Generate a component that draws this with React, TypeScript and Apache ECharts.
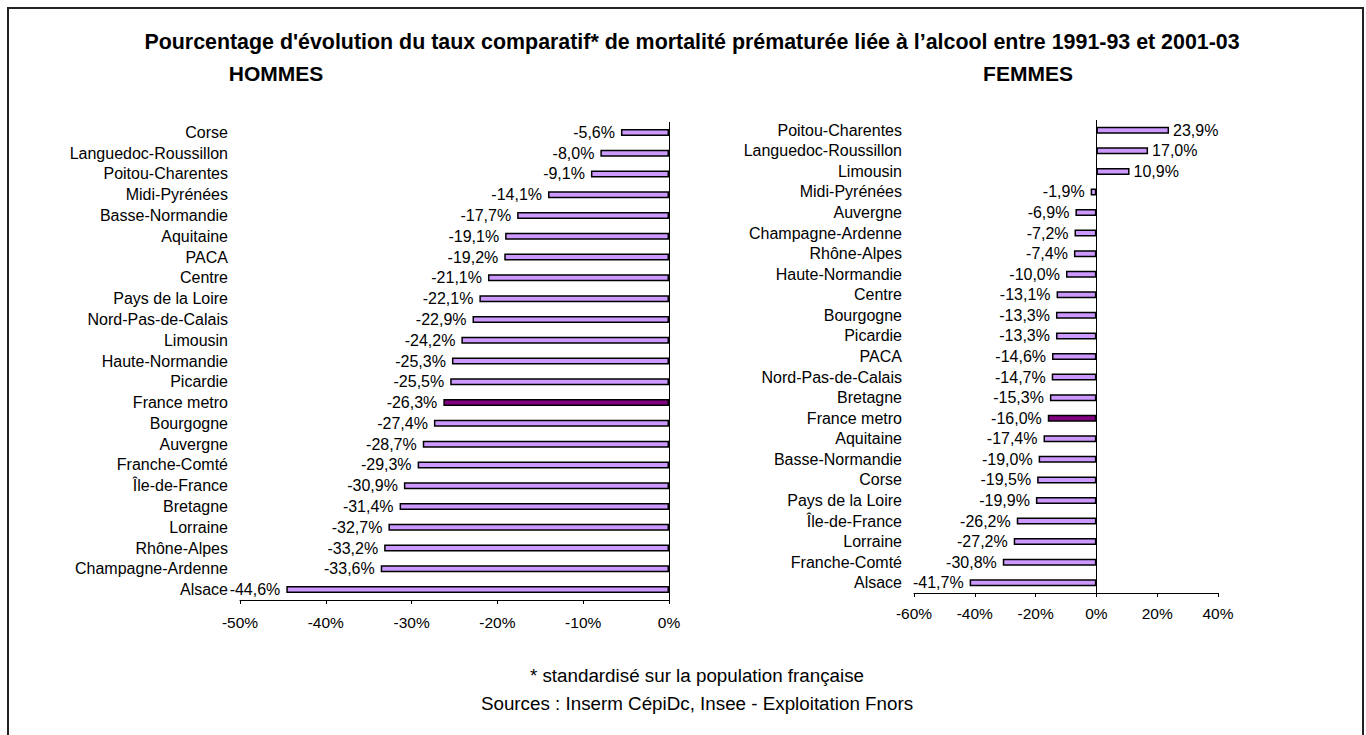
import React, { useEffect, useRef } from "react";
import * as echarts from "echarts";

const menCategories = [
  "Corse", "Languedoc-Roussillon", "Poitou-Charentes", "Midi-Pyrénées", "Basse-Normandie",
  "Aquitaine", "PACA", "Centre", "Pays de la Loire", "Nord-Pas-de-Calais", "Limousin",
  "Haute-Normandie", "Picardie", "France metro", "Bourgogne", "Auvergne", "Franche-Comté",
  "Île-de-France", "Bretagne", "Lorraine", "Rhône-Alpes", "Champagne-Ardenne", "Alsace",
];
const menValues = [
  -5.6, -8.0, -9.1, -14.1, -17.7, -19.1, -19.2, -21.1, -22.1, -22.9, -24.2, -25.3, -25.5,
  -26.3, -27.4, -28.7, -29.3, -30.9, -31.4, -32.7, -33.2, -33.6, -44.6,
];

const womenCategories = [
  "Poitou-Charentes", "Languedoc-Roussillon", "Limousin", "Midi-Pyrénées", "Auvergne",
  "Champagne-Ardenne", "Rhône-Alpes", "Haute-Normandie", "Centre", "Bourgogne", "Picardie",
  "PACA", "Nord-Pas-de-Calais", "Bretagne", "France metro", "Aquitaine", "Basse-Normandie",
  "Corse", "Pays de la Loire", "Île-de-France", "Lorraine", "Franche-Comté", "Alsace",
];
const womenValues = [
  23.9, 17.0, 10.9, -1.9, -6.9, -7.2, -7.4, -10.0, -13.1, -13.3, -13.3, -14.6, -14.7, -15.3,
  -16.0, -17.4, -19.0, -19.5, -19.9, -26.2, -27.2, -30.8, -41.7,
];

const menTicks = { min: -50, max: 0, interval: 10 };
const womenTicks = { min: -60, max: 40, interval: 20 };

const titleText =
  "Pourcentage d'évolution du taux comparatif* de mortalité prématurée liée à l’alcool entre 1991-93 et 2001-03";
const menTitle = "HOMMES";
const womenTitle = "FEMMES";
const footnote1 = "* standardisé sur la population française";
const footnote2 = "Sources : Inserm CépiDc, Insee - Exploitation Fnors";
const highlight = "France metro";

const FONT = 'Arial, "Liberation Sans", Helvetica, sans-serif';
const fmt = (v: number) => v.toFixed(1).replace(".", ",") + "%";

function buildData(cats: string[], vals: number[]) {
  return vals.map((v, i) => ({
    value: v,
    itemStyle: { color: cats[i] === highlight ? "#800080" : "#CC99FF" },
    label: { position: v < 0 ? "left" : "right", distance: v < 0 ? 6 : 4 },
  }));
}

export default function App() {
  const ref = useRef<HTMLDivElement>(null);
  useEffect(() => {
    if (!ref.current) return;
    const chart = echarts.init(ref.current, null, { renderer: "svg" });
    const axisCommon = (t: { min: number; max: number; interval: number }, margin: number) => ({
      type: "value" as const,
      min: t.min,
      max: t.max,
      interval: t.interval,
      axisLine: { show: true, lineStyle: { color: "#000", width: 1 } },
      axisTick: { show: true, length: 4, lineStyle: { color: "#000" } },
      splitLine: { show: false },
      axisLabel: {
        color: "#000",
        fontSize: 15.5,
        fontFamily: FONT,
        margin,
        formatter: (v: number) => `${v}%`,
      },
    });
    const catAxis = (cats: string[], gi: number) => ({
      type: "category" as const,
      gridIndex: gi,
      data: cats,
      inverse: true,
      axisLine: { show: false },
      axisTick: { show: false },
      axisLabel: { interval: 0, color: "#000", fontSize: 16, fontFamily: FONT, margin: 12 },
    });
    const barSeries = (cats: string[], vals: number[], gi: number) => ({
      type: "bar" as const,
      xAxisIndex: gi,
      yAxisIndex: gi,
      barWidth: 7,
      data: buildData(cats, vals),
      itemStyle: { borderColor: "#000", borderWidth: 1.5 },
      label: {
        show: true,
        color: "#000",
        fontSize: 16,
        fontFamily: FONT,
        formatter: (p: any) => fmt(p.value),
      },
      markLine: {
        silent: true,
        symbol: "none",
        label: { show: false },
        lineStyle: { color: "#000", width: 1, type: "solid" },
        data: [{ xAxis: 0 }],
      },
    });
    const txt = (text: string, x: number, y: number, font: string) => ({
      type: "text",
      x,
      y,
      style: { text, font, fill: "#000", textAlign: "center", textVerticalAlign: "middle" },
    });
    chart.setOption({
      animation: false,
      backgroundColor: "#fff",
      grid: [
        { left: 240, right: 697, top: 122, bottom: 135 },
        { left: 914, right: 148, top: 120, bottom: 142 },
      ],
      xAxis: [
        { ...axisCommon(menTicks, 14), gridIndex: 0 },
        { ...axisCommon(womenTicks, 12), gridIndex: 1 },
      ],
      yAxis: [catAxis(menCategories, 0), catAxis(womenCategories, 1)],
      series: [barSeries(menCategories, menValues, 0), barSeries(womenCategories, womenValues, 1)],
      graphic: [
        {
          type: "rect",
          shape: { x: 8, y: 8, width: 1355, height: 760 },
          style: { fill: "none", stroke: "#222", lineWidth: 2 },
          silent: true,
        },
        txt(titleText, 692, 42, `bold 21.4px ${FONT}`),
        txt(menTitle, 276, 73, `bold 21px ${FONT}`),
        txt(womenTitle, 1028, 73, `bold 21px ${FONT}`),
        txt(footnote1, 697, 675, `18.8px ${FONT}`),
        txt(footnote2, 697, 703, `18.8px ${FONT}`),
      ],
    });
    return () => chart.dispose();
  }, []);
  return (
    <div
      ref={ref}
      style={{ position: "fixed", left: 0, top: 0, width: 1366, height: 735 }}
    />
  );
}
